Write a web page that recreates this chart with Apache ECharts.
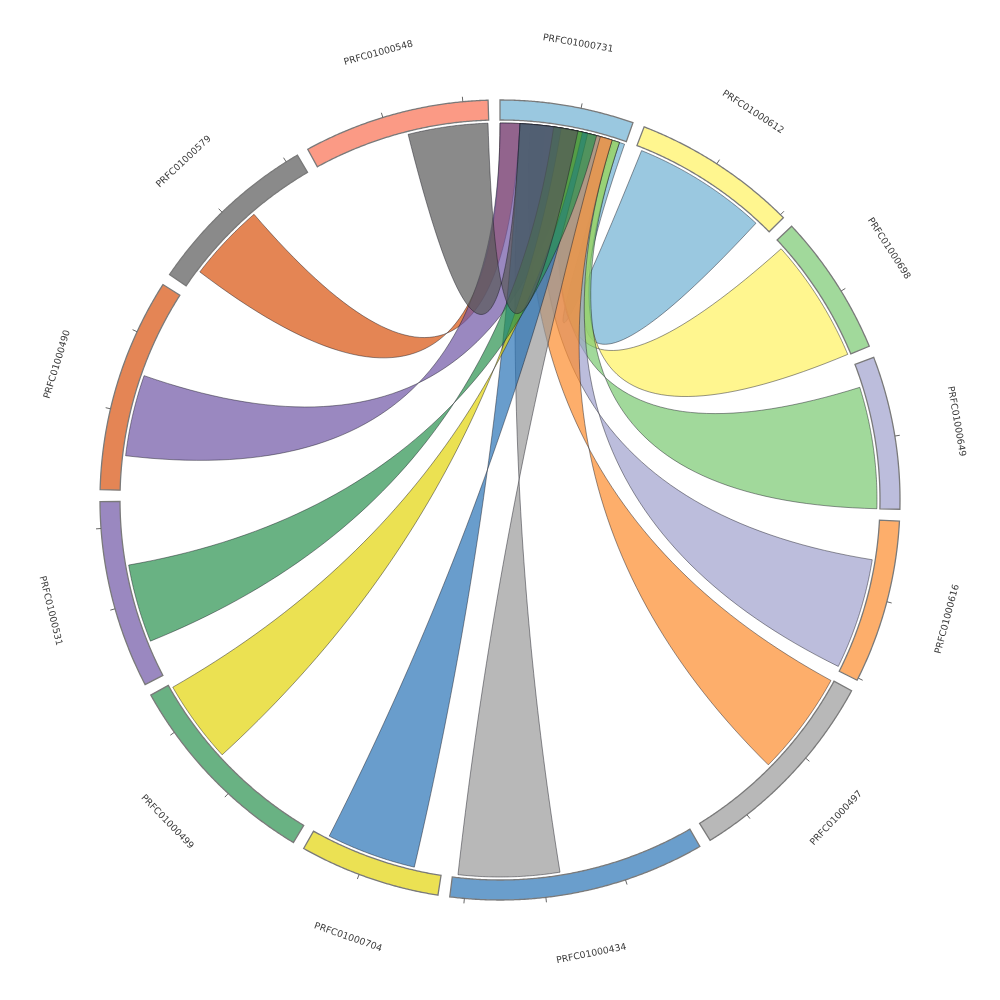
<!DOCTYPE html>
<html><head><meta charset="utf-8">
<script src="https://cdn.jsdelivr.net/npm/echarts@6/dist/echarts.min.js"></script>
<style>html,body{margin:0;padding:0;background:#fff}#c{width:1000px;height:1000px}</style>
</head><body><div id="c"></div>
<script>
// ---- data ----
const contigs = ['PRFC01000731','PRFC01000612','PRFC01000698','PRFC01000649','PRFC01000616','PRFC01000497','PRFC01000434','PRFC01000704','PRFC01000499','PRFC01000531','PRFC01000490','PRFC01000579','PRFC01000548'];
const contigLengths = [166, 205, 176, 190, 203, 255, 318, 175, 254, 233, 266, 216, 231];
const tickInterval = 100;
const hubContig = 'PRFC01000731';
// links (hub region on PRFC01000731 -> region on target contig), in drawing order
const linkTargets = ['PRFC01000579','PRFC01000612','PRFC01000698','PRFC01000649','PRFC01000616','PRFC01000497','PRFC01000434','PRFC01000490','PRFC01000704','PRFC01000499','PRFC01000531','PRFC01000548'];
const hubStart    = [  0, 150, 100,  90,  60,  40,  26,   0,  26,  80,  70,  26];
const hubEnd      = [ 26, 165, 158, 158, 148, 148, 132, 102, 115, 108, 127, 102];
const targetStart = [ 25,   8,  12,  30,  52,   1, 178,  45,  36, 140,  47, 125];
const targetEnd   = [128, 185, 175, 190, 198, 138, 311, 152, 154, 249, 150, 230];

// ---- styles ----
const contigColors = ['#9ac8e0','#fff68f','#a1d99b','#bcbddc','#fdae6b','#b8b8b8','#6a9ecc','#ebe153','#69b283','#9a88c0','#e48555','#8a8a8a','#fb9a85'];
const GAP = 14.6, R_OUT = 400, R_IN = 380, R_LINK = 377, R_TICK = 405, R_LABEL = 463;
const LINK_ALPHA = 0.7;

const starts = []; let acc = 0;
contigLengths.forEach(l => { starts.push(acc); acc += l + GAP; });
const AXIS_MAX = acc;

function baseRgba(hex, a) {
  const n = parseInt(hex.slice(1), 16);
  const c = [(n >> 16) & 255, (n >> 8) & 255, n & 255].map(v => Math.max(0, Math.min(255, Math.round((v - (1 - a) * 255) / a))));
  return 'rgba(' + c.join(',') + ',' + a + ')';
}
function arcPts(api, r, a0, a1) {
  const n = Math.max(2, Math.ceil(Math.abs(a1 - a0) / 2));
  const p = [];
  for (let k = 0; k <= n; k++) p.push(api.coord([r, a0 + (a1 - a0) * k / n]));
  return p;
}
function quadPts(p0, c, p2) {
  const p = [];
  for (let k = 1; k < 60; k++) {
    const t = k / 60, u = 1 - t;
    p.push([u*u*p0[0] + 2*u*t*c[0] + t*t*p2[0], u*u*p0[1] + 2*u*t*c[1] + t*t*p2[1]]);
  }
  return p;
}
const hubIdx = contigs.indexOf(hubContig);
const tickData = [];
contigs.forEach((c, i) => { for (let v = tickInterval; v <= contigLengths[i]; v += tickInterval) tickData.push([R_OUT, starts[i] + v]); });

const chart = echarts.init(document.getElementById('c'));
chart.setOption({
  animation: false,
  polar: { center: ['50%', '50%'], radius: 500 },
  angleAxis: { type: 'value', min: 0, max: AXIS_MAX, startAngle: 90, clockwise: true, show: false },
  radiusAxis: { type: 'value', min: 0, max: 500, show: false },
  series: [
    { type: 'custom', coordinateSystem: 'polar', silent: true,
      data: contigs.map((c, i) => [R_OUT, starts[i]]),
      renderItem: (params, api) => {
        const i = params.dataIndex, a0 = starts[i], a1 = a0 + contigLengths[i];
        const pts = arcPts(api, R_OUT, a0, a1).concat(arcPts(api, R_IN, a1, a0));
        return { type: 'polygon', shape: { points: pts }, style: { fill: contigColors[i], stroke: '#7a7a7a', lineWidth: 1.3 } };
      } },
    { type: 'custom', coordinateSystem: 'polar', silent: true,
      data: tickData,
      renderItem: (params, api) => {
        const v = tickData[params.dataIndex][1];
        const p0 = api.coord([R_OUT, v]), p1 = api.coord([R_TICK, v]);
        return { type: 'line', shape: { x1: p0[0], y1: p0[1], x2: p1[0], y2: p1[1] }, style: { stroke: '#666', lineWidth: 1 } };
      } },
    { type: 'custom', coordinateSystem: 'polar', silent: true,
      data: linkTargets.map((t, j) => [R_LINK, starts[hubIdx] + hubStart[j]]),
      renderItem: (params, api) => {
        const j = params.dataIndex, ti = contigs.indexOf(linkTargets[j]);
        const H = starts[hubIdx], T = starts[ti];
        const c = api.coord([0, 0]);
        const a1 = H + hubStart[j], a2 = H + hubEnd[j], b1 = T + targetStart[j], b2 = T + targetEnd[j];
        let pts = arcPts(api, R_LINK, a1, a2);
        pts = pts.concat(quadPts(api.coord([R_LINK, a2]), c, api.coord([R_LINK, b2])));
        pts = pts.concat(arcPts(api, R_LINK, b2, b1));
        pts = pts.concat(quadPts(api.coord([R_LINK, b1]), c, api.coord([R_LINK, a1])));
        const col = contigColors[(ti - 1 + contigs.length) % contigs.length];
        return { type: 'polygon', shape: { points: pts }, style: { fill: baseRgba(col, LINK_ALPHA), stroke: 'rgba(20,20,30,0.75)', lineWidth: 0.6 } };
      } },
    { type: 'custom', coordinateSystem: 'polar', silent: true,
      data: contigs.map((c, i) => [R_LABEL, starts[i] + contigLengths[i] / 2]),
      renderItem: (params, api) => {
        const i = params.dataIndex, mid = starts[i] + contigLengths[i] / 2;
        const p = api.coord([R_LABEL, mid]);
        const deg = mid / AXIS_MAX * 360;
        let rot = (deg > 90 && deg < 270) ? deg - 180 : (deg >= 270 ? deg - 360 : deg);
        return { type: 'text', x: p[0], y: p[1], rotation: -rot * Math.PI / 180,
          style: { text: contigs[i], fill: '#3a3a3a', font: '9.3px "DejaVu Sans"', align: 'center', verticalAlign: 'middle' } };
      } }
  ]
});
</script></body></html>
